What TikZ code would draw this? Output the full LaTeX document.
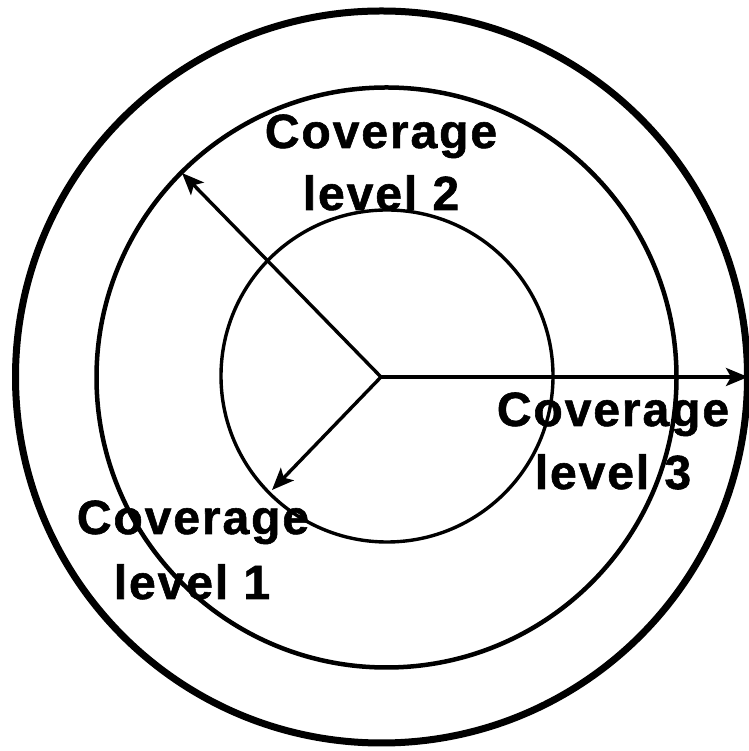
\documentclass[tikz,border=0pt]{standalone}
\usepackage{fontspec}
\setmainfont{Liberation Sans}[BoldFont={Liberation Sans Bold}, BoldFeatures={FakeBold=1.2}, LetterSpace=4]
\usetikzlibrary{arrows.meta}
\tikzset{
  ring/.style={draw=black, circle, inner sep=0pt},
  lbl/.style={font=\fontsize{48}{62}\selectfont\bfseries, anchor=base, inner sep=0pt},
  ray/.style={draw=black, line width=3.4pt, -{Stealth[length=22pt,width=18pt,inset=5pt]}}
}
\begin{document}
\begin{tikzpicture}[x=1pt,y=1pt]
\useasboundingbox[fill=white] (0,0) rectangle (748,751);
% rings
\node[ring, line width=7pt, minimum size=732pt] (outer) at (381.5,374) {};
\node[ring, line width=4.5pt, minimum size=580pt] (middle) at (386.5,373.5) {};
\node[ring, line width=3.4pt, minimum size=332pt] (inner) at (387,375) {};
% centre and ray ends
\coordinate (o) at (381,374);
\coordinate (e2) at (182,578);
\coordinate (e1) at (272,261);
\coordinate (e3) at (748,374);
\draw[ray] (o) -- (e2);
\draw[ray] (o) -- (e1);
\draw[ray] (o) -- (e3);
% labels
\node[lbl] (l2a) at (381,603) {Coverage};
\node[lbl] (l2b) at (381,541) {level 2};
\node[lbl] (l3a) at (613,325) {Coverage};
\node[lbl] (l3b) at (613,262) {level 3};
\node[lbl] (l1a) at (193,217) {Coverage};
\node[lbl] (l1b) at (192,152) {level 1};
\end{tikzpicture}
\end{document}
